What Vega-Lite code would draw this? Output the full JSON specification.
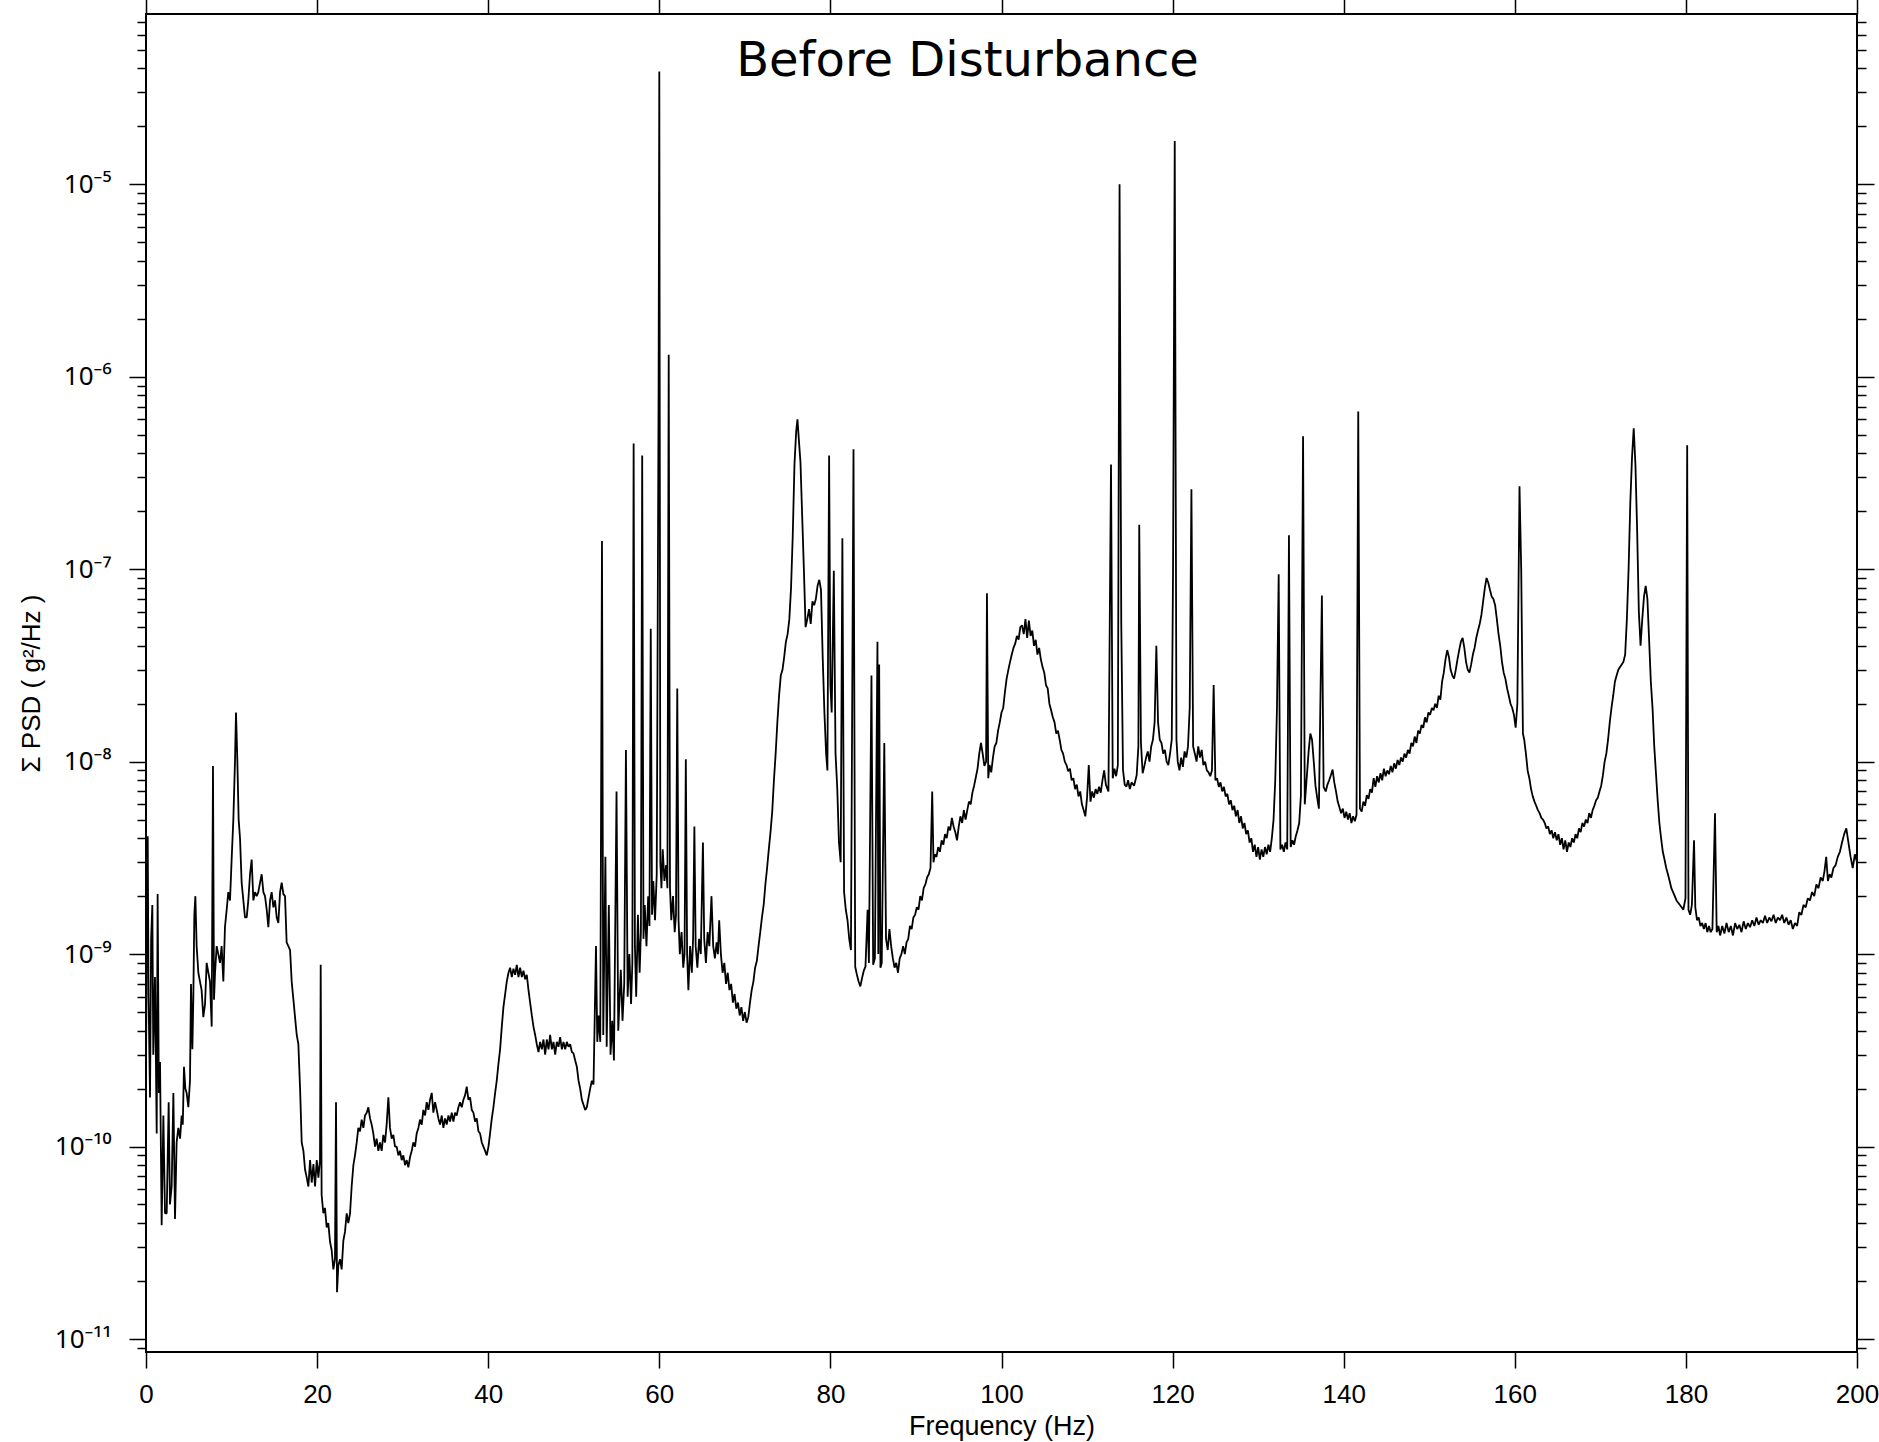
{
"$schema":"https://vega.github.io/schema/vega-lite/v6.json",
"autosize":{"type":"none"},
"padding":{"left":146,"top":14,"right":22,"bottom":90},
"width":1711,"height":1338,
"background":"white",
"config":{"view":{"stroke":"black","strokeWidth":2},"font":"Liberation Sans"},
"title":{"text":"Before Disturbance","font":"DejaVu Sans","fontSize":48,"fontWeight":"normal","color":"black","anchor":"middle","frame":"group","baseline":"alphabetic","offset":-50,"dy":77,"dx":-34},
"data":{"values":[
{"f":0,"p":2.6e-10},{"f":0.1,"p":1.5e-9},{"f":0.2,"p":4.1e-9},{"f":0.3,"p":6e-10},{"f":0.47,"p":1.8e-10},{"f":0.6,"p":1.2e-9},{"f":0.74,"p":1.8e-9},{"f":0.85,"p":3e-10},{"f":1.05,"p":7.6e-10},{"f":1.25,"p":1.17e-10},{"f":1.36,"p":2.05e-9},{"f":1.5,"p":1.9e-10},{"f":1.64,"p":2.75e-10},{"f":1.83,"p":3.9e-11},{"f":2.03,"p":1.45e-10},{"f":2.22,"p":4.5e-11},{"f":2.42,"p":4.5e-11},{"f":2.65,"p":1.7e-10},{"f":2.8,"p":5e-11},{"f":3,"p":6.2e-11},{"f":3.2,"p":1.9e-10},{"f":3.39,"p":4.2e-11},{"f":3.58,"p":1.05e-10},{"f":3.78,"p":1.25e-10},{"f":3.98,"p":1.1e-10},{"f":4.17,"p":1.45e-10},{"f":4.3,"p":1.3e-10},{"f":4.44,"p":2.6e-10},{"f":4.6,"p":2e-10},{"f":4.75,"p":1.9e-10},{"f":4.95,"p":1.6e-10},{"f":5.14,"p":2.2e-10},{"f":5.26,"p":7e-10},{"f":5.42,"p":3.2e-10},{"f":5.53,"p":5.8e-10},{"f":5.65,"p":1.6e-9},{"f":5.77,"p":2e-9},{"f":5.92,"p":1.1e-9},{"f":6.12,"p":8e-10},{"f":6.31,"p":7.2e-10},{"f":6.5,"p":6.5e-10},{"f":6.7,"p":4.7e-10},{"f":6.9,"p":5.5e-10},{"f":7.09,"p":9e-10},{"f":7.29,"p":8e-10},{"f":7.48,"p":7.2e-10},{"f":7.68,"p":4.2e-10},{"f":7.83,"p":9.5e-9},{"f":7.95,"p":5.8e-10},{"f":8.07,"p":8e-10},{"f":8.26,"p":1.1e-9},{"f":8.45,"p":1e-9},{"f":8.65,"p":9e-10},{"f":8.84,"p":1.1e-9},{"f":9.04,"p":7.2e-10},{"f":9.23,"p":1.38e-9},{"f":9.43,"p":1.7e-9},{"f":9.62,"p":2.1e-9},{"f":9.82,"p":1.9e-9},{"f":10.01,"p":3.1e-9},{"f":10.21,"p":5e-9},{"f":10.4,"p":1e-8},{"f":10.52,"p":1.8e-8},{"f":10.68,"p":1e-8},{"f":10.83,"p":5e-9},{"f":10.99,"p":4e-9},{"f":11.18,"p":2.35e-9},{"f":11.38,"p":1.9e-9},{"f":11.57,"p":1.55e-9},{"f":11.77,"p":1.55e-9},{"f":11.96,"p":1.9e-9},{"f":12.16,"p":2.6e-9},{"f":12.35,"p":3.1e-9},{"f":12.55,"p":1.9e-9},{"f":12.74,"p":2.1e-9},{"f":12.94,"p":2e-9},{"f":13.13,"p":2.1e-9},{"f":13.33,"p":2.35e-9},{"f":13.52,"p":2.6e-9},{"f":13.72,"p":2.1e-9},{"f":13.91,"p":2e-9},{"f":14.11,"p":1.7e-9},{"f":14.3,"p":1.38e-9},{"f":14.5,"p":1.9e-9},{"f":14.69,"p":2.1e-9},{"f":14.89,"p":1.75e-9},{"f":15.08,"p":1.9e-9},{"f":15.28,"p":1.55e-9},{"f":15.47,"p":1.45e-9},{"f":15.67,"p":2.1e-9},{"f":15.86,"p":2.35e-9},{"f":16.06,"p":2.05e-9},{"f":16.25,"p":2e-9},{"f":16.44,"p":1.15e-9},{"f":16.64,"p":1.1e-9},{"f":16.84,"p":1.05e-9},{"f":17.03,"p":7.2e-10},{"f":17.23,"p":5.8e-10},{"f":17.42,"p":4.7e-10},{"f":17.62,"p":3.8e-10},{"f":17.81,"p":3.4e-10},{"f":18.01,"p":2e-10},{"f":18.2,"p":1.05e-10},{"f":18.4,"p":9.5e-11},{"f":18.59,"p":7.6e-11},{"f":18.79,"p":6.9e-11},{"f":18.98,"p":6.2e-11},{"f":19.18,"p":8.5e-11},{"f":19.37,"p":6.5e-11},{"f":19.57,"p":8.1e-11},{"f":19.76,"p":6.2e-11},{"f":19.96,"p":8.5e-11},{"f":20.15,"p":6.9e-11},{"f":20.34,"p":8.5e-11},{"f":20.42,"p":8.8e-10},{"f":20.53,"p":5.6e-11},{"f":20.73,"p":4.5e-11},{"f":20.92,"p":4.8e-11},{"f":21.12,"p":3.8e-11},{"f":21.31,"p":4e-11},{"f":21.51,"p":3.2e-11},{"f":21.7,"p":2.9e-11},{"f":21.9,"p":2.3e-11},{"f":22.09,"p":2.6e-11},{"f":22.21,"p":1.7e-10},{"f":22.33,"p":1.75e-11},{"f":22.48,"p":2.4e-11},{"f":22.68,"p":2.6e-11},{"f":22.87,"p":2.3e-11},{"f":23.07,"p":3.25e-11},{"f":23.26,"p":3.6e-11},{"f":23.46,"p":4.5e-11},{"f":23.65,"p":4e-11},{"f":23.85,"p":4.5e-11},{"f":24.04,"p":6.2e-11},{"f":24.24,"p":8e-11},{"f":24.43,"p":9e-11},{"f":24.63,"p":1.05e-10},{"f":24.82,"p":1.25e-10},{"f":25.02,"p":1.2e-10},{"f":25.21,"p":1.38e-10},{"f":25.41,"p":1.25e-10},{"f":25.6,"p":1.45e-10},{"f":25.8,"p":1.5e-10},{"f":25.99,"p":1.6e-10},{"f":26.19,"p":1.4e-10},{"f":26.38,"p":1.3e-10},{"f":26.57,"p":1.17e-10},{"f":26.77,"p":1e-10},{"f":26.96,"p":1.1e-10},{"f":27.16,"p":9.5e-11},{"f":27.35,"p":1.05e-10},{"f":27.55,"p":9.5e-11},{"f":27.74,"p":1.15e-10},{"f":27.94,"p":1.05e-10},{"f":28.13,"p":1.3e-10},{"f":28.33,"p":1.8e-10},{"f":28.52,"p":1.25e-10},{"f":28.72,"p":1.1e-10},{"f":28.91,"p":1.15e-10},{"f":29.11,"p":1e-10},{"f":29.3,"p":1e-10},{"f":29.5,"p":9e-11},{"f":29.69,"p":9.5e-11},{"f":29.89,"p":8.5e-11},{"f":30.08,"p":9e-11},{"f":30.28,"p":8e-11},{"f":30.47,"p":8.5e-11},{"f":30.67,"p":7.8e-11},{"f":30.86,"p":8.8e-11},{"f":31.06,"p":9.5e-11},{"f":31.25,"p":1.05e-10},{"f":31.45,"p":1e-10},{"f":31.64,"p":1.17e-10},{"f":31.84,"p":1.25e-10},{"f":32.03,"p":1.38e-10},{"f":32.23,"p":1.3e-10},{"f":32.42,"p":1.55e-10},{"f":32.62,"p":1.45e-10},{"f":32.81,"p":1.7e-10},{"f":33.01,"p":1.55e-10},{"f":33.2,"p":1.75e-10},{"f":33.4,"p":1.9e-10},{"f":33.59,"p":1.5e-10},{"f":33.79,"p":1.7e-10},{"f":33.98,"p":1.55e-10},{"f":34.18,"p":1.4e-10},{"f":34.37,"p":1.3e-10},{"f":34.57,"p":1.45e-10},{"f":34.76,"p":1.25e-10},{"f":34.96,"p":1.4e-10},{"f":35.15,"p":1.3e-10},{"f":35.35,"p":1.45e-10},{"f":35.54,"p":1.35e-10},{"f":35.74,"p":1.5e-10},{"f":35.93,"p":1.35e-10},{"f":36.13,"p":1.5e-10},{"f":36.32,"p":1.45e-10},{"f":36.52,"p":1.6e-10},{"f":36.71,"p":1.7e-10},{"f":36.91,"p":1.6e-10},{"f":37.1,"p":1.75e-10},{"f":37.3,"p":1.85e-10},{"f":37.49,"p":2.05e-10},{"f":37.69,"p":1.75e-10},{"f":37.88,"p":1.8e-10},{"f":38.08,"p":1.55e-10},{"f":38.27,"p":1.5e-10},{"f":38.47,"p":1.35e-10},{"f":38.66,"p":1.4e-10},{"f":38.86,"p":1.2e-10},{"f":39.05,"p":1.17e-10},{"f":39.25,"p":1.05e-10},{"f":39.44,"p":1e-10},{"f":39.64,"p":9.5e-11},{"f":39.83,"p":9e-11},{"f":40.03,"p":1e-10},{"f":40.22,"p":1.17e-10},{"f":40.42,"p":1.4e-10},{"f":40.61,"p":1.6e-10},{"f":40.81,"p":1.9e-10},{"f":41,"p":2.2e-10},{"f":41.2,"p":2.7e-10},{"f":41.39,"p":3.2e-10},{"f":41.59,"p":4.2e-10},{"f":41.78,"p":5.3e-10},{"f":41.98,"p":6.2e-10},{"f":42.17,"p":7.2e-10},{"f":42.37,"p":8e-10},{"f":42.56,"p":8.5e-10},{"f":42.76,"p":7.6e-10},{"f":42.95,"p":8.4e-10},{"f":43.15,"p":7.8e-10},{"f":43.34,"p":8.8e-10},{"f":43.54,"p":7.6e-10},{"f":43.73,"p":8.5e-10},{"f":43.93,"p":7.6e-10},{"f":44.12,"p":8.2e-10},{"f":44.32,"p":7.4e-10},{"f":44.51,"p":7.8e-10},{"f":44.71,"p":6.5e-10},{"f":44.9,"p":5.6e-10},{"f":45.1,"p":4.8e-10},{"f":45.29,"p":4.2e-10},{"f":45.49,"p":3.8e-10},{"f":45.68,"p":3.4e-10},{"f":45.88,"p":3.1e-10},{"f":46.07,"p":3.5e-10},{"f":46.27,"p":3.2e-10},{"f":46.46,"p":3.6e-10},{"f":46.66,"p":3e-10},{"f":46.85,"p":3.6e-10},{"f":47.05,"p":3.2e-10},{"f":47.24,"p":3.8e-10},{"f":47.44,"p":3.2e-10},{"f":47.63,"p":3.5e-10},{"f":47.83,"p":3e-10},{"f":48.02,"p":3.5e-10},{"f":48.22,"p":3.3e-10},{"f":48.41,"p":3.7e-10},{"f":48.61,"p":3.2e-10},{"f":48.8,"p":3.5e-10},{"f":49,"p":3.2e-10},{"f":49.19,"p":3.5e-10},{"f":49.39,"p":3.3e-10},{"f":49.58,"p":3.4e-10},{"f":49.78,"p":3.1e-10},{"f":49.97,"p":3.05e-10},{"f":50.17,"p":2.8e-10},{"f":50.36,"p":2.6e-10},{"f":50.56,"p":2.2e-10},{"f":50.75,"p":2e-10},{"f":50.95,"p":1.75e-10},{"f":51.14,"p":1.65e-10},{"f":51.34,"p":1.55e-10},{"f":51.53,"p":1.6e-10},{"f":51.73,"p":1.8e-10},{"f":51.92,"p":2e-10},{"f":52.12,"p":2.2e-10},{"f":52.31,"p":2.1e-10},
{"f":52.6,"p":1.1e-9},{"f":52.75,"p":3.5e-10},{"f":52.9,"p":4.8e-10},{"f":53.1,"p":3.5e-10},{"f":53.3,"p":1.4e-7},{"f":53.45,"p":3.8e-10},{"f":53.7,"p":3.2e-9},{"f":53.85,"p":3.3e-10},{"f":54.1,"p":1.8e-9},{"f":54.3,"p":3e-10},{"f":54.5,"p":4.5e-10},{"f":54.7,"p":2.8e-10},{"f":55,"p":7e-9},{"f":55.2,"p":4e-10},{"f":55.5,"p":8.3e-10},{"f":55.7,"p":4.5e-10},{"f":55.9,"p":7e-10},{"f":56.1,"p":1.15e-8},{"f":56.3,"p":6e-10},{"f":56.5,"p":1e-9},{"f":56.7,"p":5.5e-10},{"f":56.85,"p":9e-10},{"f":57,"p":4.5e-7},{"f":57.15,"p":1.1e-9},{"f":57.3,"p":6e-10},{"f":57.5,"p":1.6e-9},{"f":57.7,"p":8e-10},{"f":57.85,"p":1.3e-9},{"f":58,"p":3.9e-7},{"f":58.15,"p":1.2e-9},{"f":58.3,"p":1.8e-9},{"f":58.5,"p":1.1e-9},{"f":58.7,"p":2e-9},{"f":58.85,"p":1.4e-9},{"f":59,"p":4.9e-8},{"f":59.15,"p":1.6e-9},{"f":59.3,"p":2.4e-9},{"f":59.5,"p":1.5e-9},{"f":59.7,"p":2.6e-9},{"f":59.92,"p":9.2e-7},{"f":60,"p":3.85e-5},{"f":60.12,"p":3e-9},{"f":60.25,"p":2.2e-9},{"f":60.4,"p":3.5e-9},{"f":60.6,"p":2.4e-9},{"f":60.8,"p":2.9e-9},{"f":60.95,"p":2.2e-9},{"f":61.1,"p":1.3e-6},{"f":61.25,"p":2.2e-9},{"f":61.4,"p":1.5e-9},{"f":61.6,"p":2e-9},{"f":61.8,"p":1.3e-9},{"f":61.95,"p":1.6e-9},{"f":62.1,"p":2.4e-8},{"f":62.25,"p":1.5e-9},{"f":62.4,"p":1e-9},{"f":62.6,"p":1.3e-9},{"f":62.8,"p":8.5e-10},{"f":62.95,"p":1e-9},{"f":63.1,"p":1.03e-8},{"f":63.25,"p":1e-9},{"f":63.4,"p":6.5e-10},{"f":63.6,"p":1.1e-9},{"f":63.8,"p":8e-10},{"f":63.95,"p":1.2e-9},{"f":64.1,"p":4.6e-9},{"f":64.25,"p":1.1e-9},{"f":64.45,"p":8.5e-10},{"f":64.65,"p":1.2e-9},{"f":64.85,"p":1e-9},{"f":65.1,"p":3.8e-9},{"f":65.25,"p":1.2e-9},{"f":65.45,"p":9e-10},{"f":65.65,"p":1.3e-9},{"f":65.85,"p":1.1e-9},{"f":66.1,"p":2e-9},{"f":66.3,"p":1.1e-9},{"f":66.5,"p":9.5e-10},{"f":66.7,"p":1.15e-9},{"f":66.85,"p":1e-9},{"f":67,"p":1.5e-9},{"f":67.2,"p":1e-9},{"f":67.4,"p":8e-10},{"f":67.6,"p":9e-10},{"f":67.8,"p":7e-10},{"f":68,"p":8e-10},{"f":68.2,"p":6.5e-10},{"f":68.4,"p":7e-10},{"f":68.6,"p":5.6e-10},{"f":68.8,"p":6.2e-10},{"f":69,"p":5.2e-10},{"f":69.2,"p":5.6e-10},{"f":69.4,"p":4.8e-10},{"f":69.6,"p":5.3e-10},{"f":69.8,"p":4.5e-10},{"f":70,"p":5e-10},{"f":70.2,"p":4.4e-10},{"f":70.4,"p":4.7e-10},{"f":70.6,"p":5.6e-10},{"f":70.8,"p":6.5e-10},{"f":71,"p":7.2e-10},{"f":71.2,"p":8.5e-10},{"f":71.4,"p":9.2e-10},{"f":71.6,"p":1.1e-9},{"f":71.8,"p":1.3e-9},{"f":72,"p":1.55e-9},{"f":72.2,"p":1.8e-9},{"f":72.4,"p":2.3e-9},{"f":72.6,"p":2.8e-9},{"f":72.8,"p":3.5e-9},{"f":73,"p":4.3e-9},{"f":73.2,"p":5.5e-9},{"f":73.4,"p":8e-9},{"f":73.6,"p":1.1e-8},{"f":73.8,"p":1.6e-8},{"f":74,"p":2.2e-8},{"f":74.2,"p":2.8e-8},{"f":74.4,"p":3e-8},{"f":74.6,"p":3.5e-8},{"f":74.8,"p":4.2e-8},{"f":75,"p":4.6e-8},{"f":75.2,"p":5.5e-8},{"f":75.4,"p":8e-8},{"f":75.6,"p":1.5e-7},{"f":75.8,"p":3.5e-7},{"f":76,"p":5.2e-7},{"f":76.15,"p":6e-7},{"f":76.3,"p":4.8e-7},{"f":76.5,"p":3.6e-7},{"f":76.7,"p":1.9e-7},{"f":76.9,"p":1e-7},{"f":77.1,"p":5e-8},{"f":77.3,"p":5.5e-8},{"f":77.5,"p":6.2e-8},{"f":77.7,"p":5.2e-8},{"f":77.9,"p":6.8e-8},{"f":78.1,"p":6.5e-8},{"f":78.3,"p":7e-8},{"f":78.5,"p":8.2e-8},{"f":78.7,"p":8.8e-8},{"f":78.9,"p":7.8e-8},{"f":79.1,"p":3.5e-8},{"f":79.3,"p":1.8e-8},{"f":79.5,"p":1.1e-8},{"f":79.65,"p":9e-9},{"f":79.85,"p":3.9e-7},{"f":80,"p":2.5e-8},{"f":80.15,"p":1.8e-8},{"f":80.4,"p":9.8e-8},{"f":80.6,"p":1.1e-8},{"f":80.8,"p":7.3e-9},{"f":81,"p":3.8e-9},{"f":81.2,"p":3e-9},{"f":81.4,"p":1.45e-7},{"f":81.6,"p":2.1e-9},{"f":81.8,"p":1.7e-9},{"f":82,"p":1.5e-9},{"f":82.2,"p":1.2e-9},{"f":82.4,"p":1.05e-9},{"f":82.7,"p":4.2e-7},{"f":82.9,"p":8.6e-10},{"f":83.1,"p":7.8e-10},{"f":83.3,"p":7.2e-10},{"f":83.5,"p":6.8e-10},{"f":83.7,"p":7.5e-10},{"f":83.9,"p":8.2e-10},{"f":84.1,"p":8.6e-10},{"f":84.35,"p":1.7e-9},{"f":84.5,"p":9e-10},{"f":84.8,"p":2.8e-8},{"f":85,"p":8.8e-10},{"f":85.2,"p":9.5e-10},{"f":85.5,"p":4.2e-8},{"f":85.6,"p":1e-9},{"f":85.7,"p":3.2e-8},{"f":85.85,"p":8.5e-10},{"f":86,"p":9e-10},{"f":86.3,"p":1.25e-8},{"f":86.5,"p":1.2e-9},{"f":86.7,"p":1.05e-9},{"f":86.9,"p":1.35e-9},{"f":87.1,"p":1.1e-9},{"f":87.3,"p":9.5e-10},{"f":87.5,"p":8.5e-10},{"f":87.7,"p":9e-10},{"f":87.9,"p":8e-10},{"f":88.1,"p":9.5e-10},{"f":88.3,"p":1e-9},{"f":88.5,"p":1.1e-9},{"f":88.7,"p":1e-9},{"f":88.9,"p":1.15e-9},{"f":89.1,"p":1.2e-9},{"f":89.3,"p":1.4e-9},{"f":89.5,"p":1.35e-9},{"f":89.7,"p":1.55e-9},{"f":89.9,"p":1.6e-9},{"f":90.1,"p":1.75e-9},{"f":90.3,"p":1.7e-9},{"f":90.5,"p":2e-9},{"f":90.7,"p":1.9e-9},{"f":90.9,"p":2.2e-9},{"f":91.1,"p":2.3e-9},{"f":91.3,"p":2.5e-9},{"f":91.5,"p":2.6e-9},{"f":91.7,"p":2.8e-9},{"f":91.9,"p":7e-9},{"f":92.05,"p":3e-9},{"f":92.2,"p":3.3e-9},{"f":92.4,"p":3.2e-9},{"f":92.6,"p":3.6e-9},{"f":92.8,"p":3.4e-9},{"f":93,"p":3.9e-9},{"f":93.2,"p":3.7e-9},{"f":93.4,"p":4.2e-9},{"f":93.6,"p":4e-9},{"f":93.8,"p":4.6e-9},{"f":94,"p":4.4e-9},{"f":94.2,"p":5.1e-9},{"f":94.4,"p":4.6e-9},{"f":94.6,"p":4.3e-9},{"f":94.8,"p":3.9e-9},{"f":95,"p":4.6e-9},{"f":95.2,"p":5.2e-9},{"f":95.4,"p":4.8e-9},{"f":95.6,"p":5.6e-9},{"f":95.8,"p":5e-9},{"f":96,"p":5.6e-9},{"f":96.2,"p":6.2e-9},{"f":96.4,"p":6e-9},{"f":96.6,"p":6.9e-9},{"f":96.8,"p":7.5e-9},{"f":97,"p":8.3e-9},{"f":97.2,"p":9.2e-9},{"f":97.4,"p":1.1e-8},{"f":97.6,"p":1.25e-8},{"f":97.8,"p":1.1e-8},{"f":98,"p":9.5e-9},{"f":98.2,"p":1e-8},{"f":98.3,"p":7.5e-8},{"f":98.45,"p":8.2e-9},{"f":98.6,"p":9.6e-9},{"f":98.8,"p":8.8e-9},{"f":99,"p":1.05e-8},{"f":99.2,"p":1.2e-8},{"f":99.4,"p":1.25e-8},{"f":99.6,"p":1.45e-8},{"f":99.8,"p":1.6e-8},{"f":100,"p":1.8e-8},{"f":100.2,"p":1.9e-8},{"f":100.4,"p":2.3e-8},{"f":100.6,"p":2.7e-8},{"f":100.8,"p":3e-8},{"f":101,"p":3.3e-8},{"f":101.2,"p":3.6e-8},{"f":101.4,"p":3.9e-8},{"f":101.6,"p":4.1e-8},{"f":101.8,"p":4.5e-8},{"f":102,"p":4.3e-8},{"f":102.2,"p":5e-8},{"f":102.4,"p":5.1e-8},{"f":102.6,"p":4.6e-8},{"f":102.8,"p":5.5e-8},{"f":103,"p":4.4e-8},{"f":103.2,"p":5.4e-8},{"f":103.4,"p":4.5e-8},{"f":103.6,"p":4.8e-8},{"f":103.8,"p":4e-8},{"f":104,"p":4.3e-8},{"f":104.2,"p":3.6e-8},{"f":104.4,"p":3.9e-8},{"f":104.6,"p":3.4e-8},{"f":104.8,"p":3.1e-8},{"f":105,"p":2.9e-8},{"f":105.2,"p":2.5e-8},{"f":105.4,"p":2.4e-8},{"f":105.6,"p":2e-8},{"f":105.8,"p":1.85e-8},{"f":106,"p":1.7e-8},{"f":106.2,"p":1.6e-8},{"f":106.4,"p":1.4e-8},{"f":106.6,"p":1.45e-8},{"f":106.8,"p":1.3e-8},{"f":107,"p":1.15e-8},{"f":107.2,"p":1.1e-8},{"f":107.4,"p":1e-8},{"f":107.6,"p":9.6e-9},{"f":107.8,"p":8.9e-9},{"f":108,"p":9.2e-9},{"f":108.2,"p":8e-9},{"f":108.4,"p":8.2e-9},{"f":108.6,"p":7.2e-9},{"f":108.8,"p":7.6e-9},{"f":109,"p":6.6e-9},{"f":109.2,"p":7e-9},{"f":109.4,"p":6e-9},{"f":109.6,"p":5.6e-9},{"f":109.8,"p":5.2e-9},{"f":110,"p":6.5e-9},{"f":110.2,"p":9.6e-9},{"f":110.4,"p":6.2e-9},{"f":110.6,"p":7e-9},{"f":110.8,"p":6.5e-9},{"f":111,"p":7.2e-9},{"f":111.2,"p":6.8e-9},{"f":111.4,"p":7.4e-9},{"f":111.6,"p":6.9e-9},{"f":111.8,"p":8e-9},{"f":112,"p":9e-9},{"f":112.2,"p":7.6e-9},{"f":112.5,"p":7e-9},{"f":112.8,"p":3.5e-7},{"f":113,"p":8.2e-9},{"f":113.2,"p":9.2e-9},{"f":113.4,"p":8.4e-9},{"f":113.6,"p":9.6e-9},{"f":113.8,"p":1e-5},{"f":114,"p":5.2e-8},{"f":114.2,"p":9.1e-9},{"f":114.4,"p":7.6e-9},{"f":114.6,"p":7.4e-9},{"f":114.8,"p":8e-9},{"f":115,"p":7.2e-9},{"f":115.2,"p":7.8e-9},{"f":115.5,"p":7.5e-9},{"f":115.8,"p":8.5e-9},{"f":116,"p":1.2e-8},{"f":116.1,"p":1.7e-7},{"f":116.3,"p":1.25e-8},{"f":116.5,"p":8.7e-9},{"f":116.7,"p":9.5e-9},{"f":116.9,"p":1.05e-8},{"f":117.1,"p":1.13e-8},{"f":117.3,"p":1e-8},{"f":117.5,"p":1.2e-8},{"f":117.7,"p":1.3e-8},{"f":117.9,"p":1.6e-8},{"f":118.1,"p":4e-8},{"f":118.3,"p":1.6e-8},{"f":118.5,"p":1.3e-8},{"f":118.7,"p":1.25e-8},{"f":118.9,"p":1.1e-8},{"f":119.1,"p":1.15e-8},{"f":119.3,"p":1e-8},{"f":119.5,"p":9.6e-9},{"f":119.7,"p":1.1e-8},{"f":119.9,"p":1.3e-8},{"f":120.05,"p":9.6e-8},{"f":120.25,"p":1.68e-5},{"f":120.45,"p":1.3e-8},{"f":120.6,"p":1e-8},{"f":120.8,"p":9e-9},{"f":121,"p":1.05e-8},{"f":121.2,"p":9.4e-9},{"f":121.4,"p":1.13e-8},{"f":121.6,"p":1.05e-8},{"f":121.8,"p":1.2e-8},{"f":122,"p":1.9e-8},{"f":122.2,"p":2.6e-7},{"f":122.4,"p":1.2e-8},{"f":122.6,"p":1.1e-8},{"f":122.8,"p":1e-8},{"f":123,"p":1.2e-8},{"f":123.2,"p":1.05e-8},{"f":123.4,"p":1.15e-8},{"f":123.6,"p":9.6e-9},{"f":123.8,"p":1e-8},{"f":124,"p":9e-9},{"f":124.2,"p":8.8e-9},{"f":124.4,"p":8.4e-9},{"f":124.6,"p":9e-9},{"f":124.8,"p":2.5e-8},{"f":125,"p":8e-9},{"f":125.2,"p":8.2e-9},{"f":125.4,"p":7.4e-9},{"f":125.6,"p":7.8e-9},{"f":125.8,"p":7e-9},{"f":126,"p":7.4e-9},{"f":126.2,"p":6.6e-9},{"f":126.4,"p":6.8e-9},{"f":126.6,"p":6e-9},{"f":126.8,"p":6.3e-9},{"f":127,"p":5.6e-9},{"f":127.2,"p":5.9e-9},{"f":127.4,"p":5.2e-9},{"f":127.6,"p":5.6e-9},{"f":127.8,"p":4.8e-9},{"f":128,"p":5.2e-9},{"f":128.2,"p":4.5e-9},{"f":128.4,"p":4.8e-9},{"f":128.6,"p":4.2e-9},{"f":128.8,"p":4.4e-9},{"f":129,"p":3.8e-9},{"f":129.2,"p":4e-9},{"f":129.4,"p":3.4e-9},{"f":129.6,"p":3.7e-9},{"f":129.8,"p":3.2e-9},{"f":130,"p":3.6e-9},{"f":130.2,"p":3.1e-9},{"f":130.4,"p":3.5e-9},{"f":130.6,"p":3.2e-9},{"f":130.8,"p":3.6e-9},{"f":131,"p":3.3e-9},{"f":131.2,"p":3.7e-9},{"f":131.4,"p":3.4e-9},{"f":131.6,"p":4e-9},{"f":131.8,"p":5e-9},{"f":132,"p":8e-9},{"f":132.2,"p":1.9e-8},{"f":132.4,"p":9.4e-8},{"f":132.6,"p":3.5e-9},{"f":132.8,"p":3.7e-9},{"f":133,"p":3.4e-9},{"f":133.2,"p":3.8e-9},{"f":133.4,"p":3.5e-9},{"f":133.6,"p":1.5e-7},{"f":133.8,"p":3.6e-9},{"f":134,"p":3.9e-9},{"f":134.2,"p":3.7e-9},{"f":134.4,"p":4.1e-9},{"f":134.6,"p":4.4e-9},{"f":134.8,"p":4.8e-9},{"f":135,"p":6.7e-9},{"f":135.25,"p":4.9e-7},{"f":135.45,"p":6e-9},{"f":135.7,"p":8.5e-9},{"f":135.9,"p":1.13e-8},{"f":136.1,"p":1.4e-8},{"f":136.3,"p":1.3e-8},{"f":136.5,"p":1e-8},{"f":136.7,"p":7.5e-9},{"f":136.9,"p":6.5e-9},{"f":137.1,"p":5.7e-9},{"f":137.45,"p":7.3e-8},{"f":137.65,"p":7.4e-9},{"f":137.9,"p":7e-9},{"f":138.1,"p":7.6e-9},{"f":138.3,"p":8e-9},{"f":138.5,"p":8.5e-9},{"f":138.7,"p":9.1e-9},{"f":138.9,"p":7.8e-9},{"f":139.1,"p":7e-9},{"f":139.3,"p":6.2e-9},{"f":139.5,"p":5.8e-9},{"f":139.7,"p":5.4e-9},{"f":139.9,"p":5.7e-9},{"f":140.1,"p":5.1e-9},{"f":140.3,"p":5.5e-9},{"f":140.5,"p":5e-9},{"f":140.7,"p":5.4e-9},{"f":140.9,"p":4.8e-9},{"f":141.1,"p":5.2e-9},{"f":141.3,"p":4.9e-9},{"f":141.5,"p":5.3e-9},{"f":141.7,"p":6.6e-7},{"f":141.9,"p":5.7e-9},{"f":142.1,"p":5.5e-9},{"f":142.3,"p":6.2e-9},{"f":142.5,"p":5.9e-9},{"f":142.7,"p":6.7e-9},{"f":142.9,"p":6.4e-9},{"f":143.1,"p":7.2e-9},{"f":143.3,"p":6.9e-9},{"f":143.5,"p":8.2e-9},{"f":143.7,"p":7.4e-9},{"f":143.9,"p":8.4e-9},{"f":144.1,"p":7.8e-9},{"f":144.3,"p":8.7e-9},{"f":144.5,"p":8e-9},{"f":144.7,"p":9.2e-9},{"f":144.9,"p":8.4e-9},{"f":145.1,"p":9e-9},{"f":145.3,"p":8.6e-9},{"f":145.5,"p":9.5e-9},{"f":145.7,"p":8.8e-9},{"f":145.9,"p":9.8e-9},{"f":146.1,"p":9.2e-9},{"f":146.3,"p":1.02e-8},{"f":146.5,"p":9.6e-9},{"f":146.7,"p":1.05e-8},{"f":146.9,"p":1e-8},{"f":147.1,"p":1.1e-8},{"f":147.3,"p":1.05e-8},{"f":147.5,"p":1.15e-8},{"f":147.7,"p":1.1e-8},{"f":147.9,"p":1.25e-8},{"f":148.1,"p":1.2e-8},{"f":148.3,"p":1.35e-8},{"f":148.5,"p":1.25e-8},{"f":148.7,"p":1.45e-8},{"f":148.9,"p":1.4e-8},{"f":149.1,"p":1.55e-8},{"f":149.3,"p":1.5e-8},{"f":149.5,"p":1.7e-8},{"f":149.7,"p":1.6e-8},{"f":149.9,"p":1.8e-8},{"f":150.1,"p":1.75e-8},{"f":150.3,"p":1.9e-8},{"f":150.5,"p":1.85e-8},{"f":150.7,"p":2e-8},{"f":150.9,"p":1.9e-8},{"f":151.1,"p":2.2e-8},{"f":151.3,"p":2.1e-8},{"f":151.5,"p":2.6e-8},{"f":151.7,"p":2.9e-8},{"f":151.9,"p":3.4e-8},{"f":152.1,"p":3.8e-8},{"f":152.3,"p":3.5e-8},{"f":152.5,"p":3e-8},{"f":152.7,"p":2.8e-8},{"f":152.9,"p":2.7e-8},{"f":153.1,"p":3e-8},{"f":153.3,"p":3.4e-8},{"f":153.5,"p":3.8e-8},{"f":153.7,"p":4.2e-8},{"f":153.9,"p":4.4e-8},{"f":154.1,"p":3.9e-8},{"f":154.3,"p":3.3e-8},{"f":154.5,"p":3e-8},{"f":154.7,"p":2.9e-8},{"f":154.9,"p":3.2e-8},{"f":155.1,"p":3.6e-8},{"f":155.3,"p":3.9e-8},{"f":155.5,"p":4.4e-8},{"f":155.7,"p":4.8e-8},{"f":155.9,"p":5.2e-8},{"f":156.1,"p":5.8e-8},{"f":156.3,"p":6.8e-8},{"f":156.5,"p":8e-8},{"f":156.7,"p":9e-8},{"f":156.9,"p":8.5e-8},{"f":157.1,"p":7.8e-8},{"f":157.3,"p":7.2e-8},{"f":157.5,"p":7e-8},{"f":157.7,"p":6.5e-8},{"f":157.9,"p":5.5e-8},{"f":158.1,"p":4.6e-8},{"f":158.3,"p":4e-8},{"f":158.5,"p":3.3e-8},{"f":158.7,"p":2.9e-8},{"f":158.9,"p":2.7e-8},{"f":159.1,"p":2.4e-8},{"f":159.3,"p":2.2e-8},{"f":159.5,"p":2e-8},{"f":159.7,"p":1.9e-8},{"f":159.9,"p":1.75e-8},{"f":160.1,"p":1.5e-8},{"f":160.3,"p":2e-8},{"f":160.55,"p":2.7e-7},{"f":160.75,"p":1e-7},{"f":160.95,"p":1.4e-8},{"f":161.1,"p":1.3e-8},{"f":161.3,"p":1.1e-8},{"f":161.5,"p":9e-9},{"f":161.7,"p":8.2e-9},{"f":161.9,"p":7.2e-9},{"f":162.1,"p":6.6e-9},{"f":162.3,"p":6.2e-9},{"f":162.5,"p":5.9e-9},{"f":162.7,"p":5.6e-9},{"f":162.9,"p":5.4e-9},{"f":163.1,"p":5.1e-9},{"f":163.3,"p":5e-9},{"f":163.5,"p":4.8e-9},{"f":163.7,"p":4.5e-9},{"f":163.9,"p":4.6e-9},{"f":164.1,"p":4.2e-9},{"f":164.3,"p":4.4e-9},{"f":164.5,"p":4e-9},{"f":164.7,"p":4.3e-9},{"f":164.9,"p":3.9e-9},{"f":165.1,"p":4.2e-9},{"f":165.3,"p":3.7e-9},{"f":165.5,"p":4e-9},{"f":165.7,"p":3.5e-9},{"f":165.9,"p":3.9e-9},{"f":166.1,"p":3.4e-9},{"f":166.3,"p":3.8e-9},{"f":166.5,"p":3.6e-9},{"f":166.7,"p":4e-9},{"f":166.9,"p":3.8e-9},{"f":167.1,"p":4.2e-9},{"f":167.3,"p":4e-9},{"f":167.5,"p":4.5e-9},{"f":167.7,"p":4.3e-9},{"f":167.9,"p":4.8e-9},{"f":168.1,"p":4.6e-9},{"f":168.3,"p":5e-9},{"f":168.5,"p":4.8e-9},{"f":168.7,"p":5.4e-9},{"f":168.9,"p":5.1e-9},{"f":169.1,"p":5.6e-9},{"f":169.3,"p":5.9e-9},{"f":169.5,"p":6.3e-9},{"f":169.7,"p":6.5e-9},{"f":169.9,"p":7e-9},{"f":170.1,"p":7.5e-9},{"f":170.3,"p":8.5e-9},{"f":170.5,"p":1e-8},{"f":170.7,"p":1.1e-8},{"f":170.9,"p":1.3e-8},{"f":171.1,"p":1.6e-8},{"f":171.3,"p":1.9e-8},{"f":171.5,"p":2.2e-8},{"f":171.7,"p":2.6e-8},{"f":171.9,"p":2.8e-8},{"f":172.1,"p":3e-8},{"f":172.3,"p":3.1e-8},{"f":172.5,"p":3.2e-8},{"f":172.7,"p":3.3e-8},{"f":172.9,"p":3.6e-8},{"f":173.1,"p":5.5e-8},{"f":173.3,"p":1e-7},{"f":173.5,"p":2.2e-7},{"f":173.7,"p":3.8e-7},{"f":173.9,"p":5.4e-7},{"f":174.1,"p":3.5e-7},{"f":174.3,"p":1.6e-7},{"f":174.5,"p":6e-8},{"f":174.7,"p":4e-8},{"f":174.9,"p":5.5e-8},{"f":175.1,"p":7.2e-8},{"f":175.3,"p":8.2e-8},{"f":175.5,"p":7e-8},{"f":175.7,"p":4.3e-8},{"f":175.9,"p":2.6e-8},{"f":176.1,"p":1.9e-8},{"f":176.3,"p":1.2e-8},{"f":176.5,"p":8.7e-9},{"f":176.7,"p":6.3e-9},{"f":176.9,"p":4.8e-9},{"f":177.1,"p":4e-9},{"f":177.3,"p":3.4e-9},{"f":177.5,"p":3.1e-9},{"f":177.7,"p":2.8e-9},{"f":177.9,"p":2.6e-9},{"f":178.1,"p":2.4e-9},{"f":178.3,"p":2.2e-9},{"f":178.5,"p":2.1e-9},{"f":178.7,"p":2e-9},{"f":178.9,"p":1.9e-9},{"f":179.1,"p":1.85e-9},{"f":179.3,"p":1.8e-9},{"f":179.5,"p":1.75e-9},{"f":179.7,"p":1.7e-9},{"f":179.95,"p":1.95e-9},{"f":180.15,"p":4.4e-7},{"f":180.3,"p":1.7e-9},{"f":180.5,"p":1.6e-9},{"f":180.7,"p":1.8e-9},{"f":180.95,"p":3.9e-9},{"f":181.1,"p":1.75e-9},{"f":181.3,"p":1.5e-9},{"f":181.5,"p":1.55e-9},{"f":181.7,"p":1.4e-9},{"f":181.9,"p":1.45e-9},{"f":182.1,"p":1.35e-9},{"f":182.3,"p":1.45e-9},{"f":182.5,"p":1.3e-9},{"f":182.7,"p":1.4e-9},{"f":182.9,"p":1.3e-9},{"f":183.1,"p":1.35e-9},{"f":183.4,"p":5.4e-9},{"f":183.6,"p":1.3e-9},{"f":183.8,"p":1.4e-9},{"f":184,"p":1.25e-9},{"f":184.25,"p":1.4e-9},{"f":184.5,"p":1.28e-9},{"f":184.75,"p":1.45e-9},{"f":185,"p":1.3e-9},{"f":185.25,"p":1.4e-9},{"f":185.5,"p":1.25e-9},{"f":185.75,"p":1.45e-9},{"f":186,"p":1.35e-9},{"f":186.25,"p":1.42e-9},{"f":186.5,"p":1.3e-9},{"f":186.75,"p":1.48e-9},{"f":187,"p":1.35e-9},{"f":187.25,"p":1.45e-9},{"f":187.5,"p":1.38e-9},{"f":187.75,"p":1.5e-9},{"f":188,"p":1.4e-9},{"f":188.25,"p":1.55e-9},{"f":188.5,"p":1.42e-9},{"f":188.75,"p":1.5e-9},{"f":189,"p":1.45e-9},{"f":189.25,"p":1.58e-9},{"f":189.5,"p":1.45e-9},{"f":189.75,"p":1.55e-9},{"f":190,"p":1.48e-9},{"f":190.25,"p":1.6e-9},{"f":190.5,"p":1.45e-9},{"f":190.75,"p":1.55e-9},{"f":191,"p":1.5e-9},{"f":191.25,"p":1.6e-9},{"f":191.5,"p":1.45e-9},{"f":191.75,"p":1.55e-9},{"f":192,"p":1.42e-9},{"f":192.25,"p":1.5e-9},{"f":192.5,"p":1.35e-9},{"f":192.75,"p":1.45e-9},{"f":193,"p":1.4e-9},{"f":193.25,"p":1.65e-9},{"f":193.5,"p":1.6e-9},{"f":193.75,"p":1.8e-9},{"f":194,"p":1.75e-9},{"f":194.25,"p":1.95e-9},{"f":194.5,"p":1.9e-9},{"f":194.75,"p":2.1e-9},{"f":195,"p":2e-9},{"f":195.25,"p":2.3e-9},{"f":195.5,"p":2.2e-9},{"f":195.75,"p":2.5e-9},{"f":196,"p":2.4e-9},{"f":196.2,"p":2.7e-9},{"f":196.4,"p":3.2e-9},{"f":196.6,"p":2.4e-9},{"f":196.8,"p":2.6e-9},{"f":197,"p":2.5e-9},{"f":197.25,"p":2.8e-9},{"f":197.5,"p":2.9e-9},{"f":197.75,"p":3.2e-9},{"f":198,"p":3.4e-9},{"f":198.25,"p":3.8e-9},{"f":198.5,"p":4.2e-9},{"f":198.75,"p":4.5e-9},{"f":199,"p":3.8e-9},{"f":199.25,"p":3.2e-9},{"f":199.5,"p":2.8e-9},{"f":199.75,"p":3.3e-9},{"f":200,"p":3e-9}
]},
"layer":[
{"mark":{"type":"line","color":"black","strokeWidth":1.8,"strokeJoin":"bevel","clip":true},
 "encoding":{
  "x":{"field":"f","type":"quantitative","scale":{"domain":[0,200],"nice":false,"zero":false},
   "axis":{"orient":"bottom","values":[0,20,40,60,80,100,120,140,160,180,200],"tickSize":16,"tickColor":"black","tickWidth":1.5,"labelFontSize":26,"labelFont":"Liberation Sans","labelColor":"black","labelPadding":13,"labelFlush":false,"labelOverlap":false,"domain":false,"grid":false,"title":"Frequency (Hz)","titleFont":"Liberation Sans","titleFontSize":27,"titleFontWeight":"normal","titleColor":"black","titlePadding":6}},
  "y":{"field":"p","type":"quantitative","scale":{"type":"log","domain":[8.56e-12,7.67e-5],"nice":false,"zero":false},
   "axis":{"orient":"left","values":[9e-12,1e-11,2e-11,3e-11,4e-11,5e-11,6e-11,7e-11,8e-11,9e-11,1e-10,2e-10,3e-10,4e-10,5e-10,6e-10,7e-10,8e-10,9e-10,1e-9,2e-9,3e-9,4e-9,5e-9,6e-9,7e-9,8e-9,9e-9,1e-8,2e-8,3e-8,4e-8,5e-8,6e-8,7e-8,8e-8,9e-8,1e-7,2e-7,3e-7,4e-7,5e-7,6e-7,7e-7,8e-7,9e-7,1e-6,2e-6,3e-6,4e-6,5e-6,6e-6,7e-6,8e-6,9e-6,1e-5,2e-5,3e-5,4e-5,5e-5,6e-5,7e-5],
   "labelExpr":"datum.value == 1e-5 ? '10⁻⁵' : datum.value == 1e-6 ? '10⁻⁶' : datum.value == 1e-7 ? '10⁻⁷' : datum.value == 1e-8 ? '10⁻⁸' : datum.value == 1e-9 ? '10⁻⁹' : datum.value == 1e-10 ? '10⁻¹⁰' : datum.value == 1e-11 ? '10⁻¹¹' : ''",
   "tickSize":{"condition":{"test":"indexof([1e-11,1e-10,1e-9,1e-8,1e-7,1e-6,1e-5], datum.value) >= 0","value":17},"value":9},
   "tickColor":"black","tickWidth":1.5,"labelFontSize":26,"labelFont":"Noto Sans","labelColor":"black","labelPadding":18,"labelOverlap":false,"labelFlush":false,"labelBound":false,"domain":false,"grid":false,
   "title":"Σ PSD ( g²/Hz )","titleFont":"Liberation Sans","titleFontSize":26,"titleFontWeight":"normal","titleColor":"black","titlePadding":10}}
 }},
{"mark":{"type":"line","opacity":0,"clip":true},
 "encoding":{
  "x":{"field":"f","type":"quantitative","axis":{"orient":"top","values":[0,20,40,60,80,100,120,140,160,180,200],"tickSize":16,"tickColor":"black","tickWidth":1.5,"labels":false,"domain":false,"grid":false,"title":null}},
  "y":{"field":"p","type":"quantitative","axis":{"orient":"right","values":[9e-12,1e-11,2e-11,3e-11,4e-11,5e-11,6e-11,7e-11,8e-11,9e-11,1e-10,2e-10,3e-10,4e-10,5e-10,6e-10,7e-10,8e-10,9e-10,1e-9,2e-9,3e-9,4e-9,5e-9,6e-9,7e-9,8e-9,9e-9,1e-8,2e-8,3e-8,4e-8,5e-8,6e-8,7e-8,8e-8,9e-8,1e-7,2e-7,3e-7,4e-7,5e-7,6e-7,7e-7,8e-7,9e-7,1e-6,2e-6,3e-6,4e-6,5e-6,6e-6,7e-6,8e-6,9e-6,1e-5,2e-5,3e-5,4e-5,5e-5,6e-5,7e-5],
   "tickSize":{"condition":{"test":"indexof([1e-11,1e-10,1e-9,1e-8,1e-7,1e-6,1e-5], datum.value) >= 0","value":17},"value":9},
   "tickColor":"black","tickWidth":1.5,"labels":false,"domain":false,"grid":false,"title":null}}
 }}
],
"resolve":{"axis":{"x":"independent","y":"independent"}}
}
